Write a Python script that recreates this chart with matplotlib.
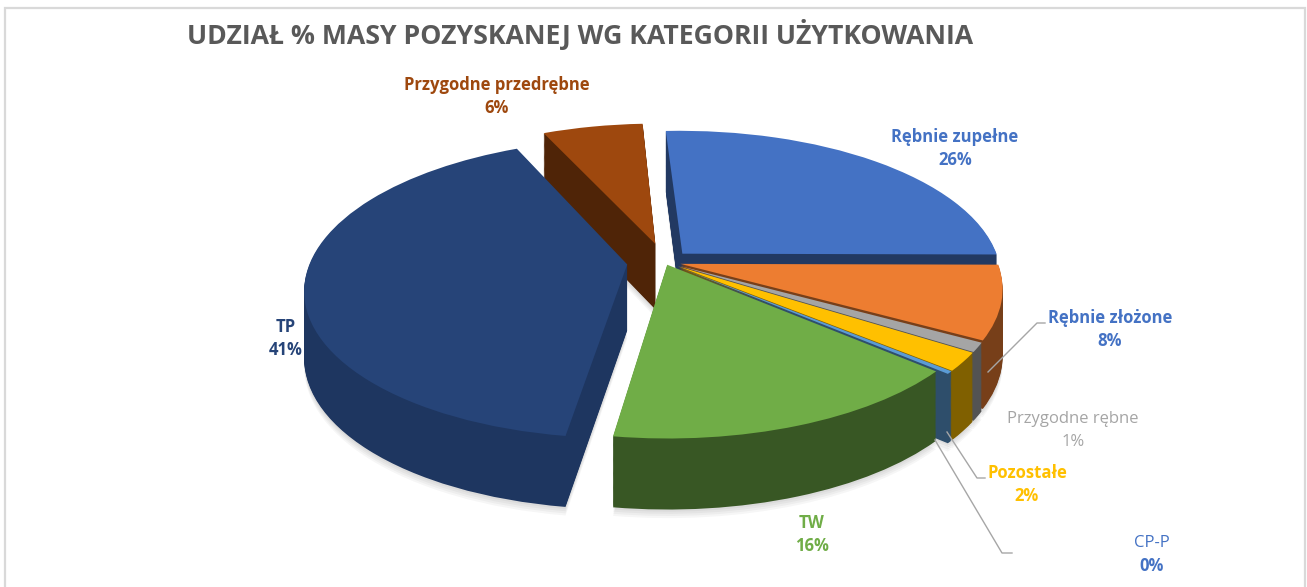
import numpy as np
import matplotlib
matplotlib.use('Agg')
import matplotlib.pyplot as plt
from matplotlib.transforms import Transform
from matplotlib.colors import to_rgb

plt.rcParams['font.family'] = ['Open Sans', 'DejaVu Sans']

# data
categories = ['Rębnie zupełne', 'Rębnie złożone', 'Przygodne rębne', 'Pozostałe',
              'CP-P', 'TW', 'TP', 'Przygodne przedrębne']
values = [26, 8, 1, 2, 0.3, 16, 41, 6]
explode = [0.08, 0.05, 0.05, 0.05, 0.05, 0.02, 0.12, 0.13]
slice_colors = ['#4472C4', '#ED7D31', '#A5A5A5', '#FFC000',
                '#5B9BD5', '#70AD47', '#264478', '#9E480E']
label_colors = ['#4472C4', '#4472C4', '#A5A5A5', '#FFC000',
                '#4472C4', '#70AD47', '#264478', '#9E480E']
name_bold = [True, True, False, True, False, True, True, True]
title = 'UDZIAŁ % MASY POZYSKANEJ WG KATEGORII UŻYTKOWANIA'

# label positions in pixels (centre of the category line)
label_pos = [(955, 137), (1110, 318), (1073, 419), (1027, 473),
             (1152, 543), (812, 523), (286, 327), (497, 85)]

W, H = 1307, 587
CX, CY, RX, RY, K = 665, 262, 317, 145, 0.16
DEPTH = 66
START = 93


class Persp(Transform):
    """tilted pie plane -> pixel coords, with mild perspective"""
    input_dims = 2
    output_dims = 2
    is_separable = False
    has_inverse = False

    def __init__(self, dz=0.0):
        super().__init__()
        self.dz = dz

    def transform_non_affine(self, pts):
        pts = np.asarray(pts, dtype=float)
        u, v = pts[:, 0], pts[:, 1]
        w = 1 + K * v
        y = CY - RY * v / w + self.dz * (1 - 0.075 * v)
        return np.column_stack([CX + RX * u / w, y])


def shade(c, f):
    return tuple(np.clip(np.array(to_rgb(c)) * f, 0, 1))


fig = plt.figure(figsize=(W / 100, H / 100), dpi=100)
ax = fig.add_axes([0, 0, 1, 1])

# painter's order: slices further back first
frac = np.array(values) / sum(values)
mid = START - 360 * (np.cumsum(frac) - frac / 2)
order = np.argsort(-np.sin(np.radians(mid)))
rank = np.empty(len(values), int)
rank[order] = np.arange(len(values))

side_colors = [shade(c, 0.8 if c == '#264478' else 0.5) for c in slice_colors]

# soft shadow
for j in range(4):
    wedges, _ = ax.pie(values, explode=explode, startangle=START, counterclock=False,
                       colors=['#000000'] * len(values),
                       wedgeprops=dict(linewidth=0, alpha=0.035))
    for wdg in wedges:
        wdg.set_transform(Persp(DEPTH + 2 + 2 * j) + ax.transData)
        wdg.set_zorder(0)

# extruded slices: layers from bottom to top
layers = np.arange(DEPTH, -1, -1)
for li, dz in enumerate(layers):
    cols = slice_colors if dz == 0 else side_colors
    wedges, _ = ax.pie(values, explode=explode, startangle=START, counterclock=False,
                       colors=cols, wedgeprops=dict(linewidth=0))
    for i, wdg in enumerate(wedges):
        wdg.set_transform(Persp(dz) + ax.transData)
        wdg.set_zorder(10 + rank[i] * 1000 + li * 0.1)

ax.set_aspect('auto')
ax.set_xlim(0, W)
ax.set_ylim(H, 0)
ax.axis('off')

# chart border (bottom edge cut off)
ax.plot([4.5, 4.5, W - 2.5, W - 2.5], [H, 7.5, 7.5, H], color='#D9D9D9', lw=1.6,
        zorder=20000, solid_joinstyle='miter')

ax.text(580, 35, title, fontsize=19.2, fontweight='bold', color='#595959',
        ha='center', va='center', zorder=20000)

# leader lines
leader = '#A6A6A6'
ax.plot([988, 1037, 1045], [372, 323, 323], color=leader, lw=1, zorder=20000)
ax.plot([947, 977, 985], [432, 478, 478], color=leader, lw=1, zorder=20000)
ax.plot([935, 1002, 1012], [440, 553, 553], color=leader, lw=1, zorder=20000)

for i, name in enumerate(categories):
    x, y = label_pos[i]
    pct = f'{frac[i] * 100:.0f}%'
    ax.text(x, y, name, fontsize=12, fontweight='bold' if name_bold[i] else 'normal',
            color=label_colors[i], ha='center', va='center', zorder=20000)
    ax.text(x, y + 23, pct, fontsize=12, fontweight='bold' if i != 2 else 'normal',
            color=label_colors[i], ha='center', va='center', zorder=20000)

fig.savefig('out.png', dpi=100)
